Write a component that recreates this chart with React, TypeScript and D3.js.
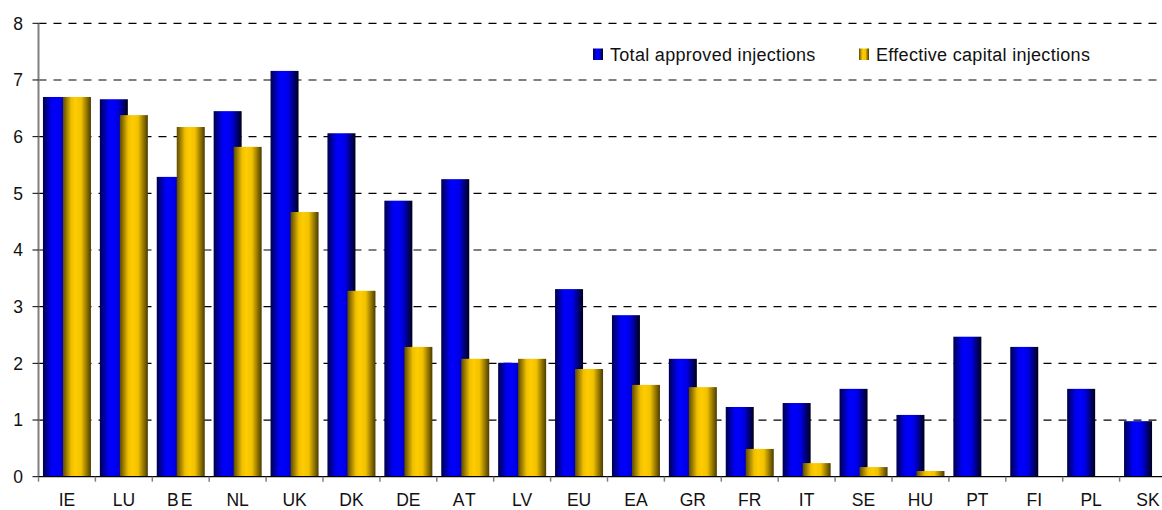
import React from "react";
import * as d3 from "d3";

const categories = ["IE", "LU", "BE", "NL", "UK", "DK", "DE", "AT", "LV", "EU", "EA", "GR", "FR", "IT", "SE", "HU", "PT", "FI", "PL", "SK"];
const totalApproved = [6.70, 6.66, 5.29, 6.45, 7.16, 6.06, 4.87, 5.25, 2.01, 3.31, 2.85, 2.08, 1.23, 1.30, 1.55, 1.09, 2.47, 2.29, 1.55, 0.98];
const effectiveCapital: (number | null)[] = [6.70, 6.38, 6.17, 5.82, 4.67, 3.28, 2.29, 2.08, 2.08, 1.90, 1.62, 1.58, 0.49, 0.24, 0.17, 0.10, null, null, null, null];
const yTicks = [0, 1, 2, 3, 4, 5, 6, 7, 8];
const seriesNames = ["Total approved injections", "Effective capital injections"];

const W = 1162;
const H = 510;
const FONT = "'Liberation Sans', Arial, sans-serif";

export default function App() {
  const x = d3.scaleBand<string>().domain(categories).range([38.5, 1176.5]).paddingInner(0).paddingOuter(0);
  const y = d3.scaleLinear().domain([0, 8]).range([476.7, 23.3]);
  const bw = x.bandwidth();
  const barW = 28;
  const overlap = 8;
  const groupW = barW * 2 - overlap;
  const off = (bw - groupW) / 2;
  const x0 = 38.5;
  const xEnd = W;

  return (
    <svg width={W} height={H} style={{ position: "absolute", left: 0, top: 0, background: "#fff" }} fontFamily={FONT}>
      <defs>
        <linearGradient id="gBlue" x1="0" x2="1" y1="0" y2="0">
          <stop offset="0%" stopColor="#00004a" />
          <stop offset="30%" stopColor="#0000ee" />
          <stop offset="45%" stopColor="#0000ff" />
          <stop offset="65%" stopColor="#0000e0" />
          <stop offset="100%" stopColor="#000018" />
        </linearGradient>
        <linearGradient id="gGold" x1="0" x2="1" y1="0" y2="0">
          <stop offset="0%" stopColor="#5c4a00" />
          <stop offset="30%" stopColor="#f0c000" />
          <stop offset="45%" stopColor="#ffcc00" />
          <stop offset="65%" stopColor="#f2c200" />
          <stop offset="100%" stopColor="#4a3b00" />
        </linearGradient>
      </defs>

      {/* gridlines */}
      {yTicks.filter((t) => t > 0).map((t) => (
        <line key={"g" + t} x1={x0} x2={xEnd} y1={y(t)} y2={y(t)} stroke="#000" strokeWidth={1.2} strokeDasharray="8,7" />
      ))}

      {/* bars */}
      {categories.map((c, i) => {
        const bx = (x(c) as number) + off;
        const tv = totalApproved[i];
        const ev = effectiveCapital[i];
        return (
          <g key={c}>
            <rect x={bx} y={y(tv)} width={barW} height={y(0) - y(tv)} fill="url(#gBlue)" />
            {ev != null && (
              <rect x={bx + barW - overlap} y={y(ev)} width={barW} height={y(0) - y(ev)} fill="url(#gGold)" />
            )}
          </g>
        );
      })}

      {/* y axis */}
      <line x1={x0} x2={x0} y1={y(8)} y2={y(0)} stroke="#808080" strokeWidth={2} />
      {yTicks.map((t) => (
        <g key={"y" + t}>
          <line x1={x0 - 6} x2={x0} y1={y(t)} y2={y(t)} stroke="#000" strokeWidth={1} />
          <text x={23} y={y(t)} dy="0.36em" textAnchor="end" fontSize={17.5} fill="#111">{t}</text>
        </g>
      ))}

      {/* x axis */}
      <line x1={x0} x2={xEnd} y1={y(0)} y2={y(0)} stroke="#000" strokeWidth={1.3} />
      {categories.map((c) => (
        <g key={"x" + c}>
          <line x1={(x(c) as number)} x2={(x(c) as number)} y1={y(0)} y2={y(0) + 5} stroke="#808080" strokeWidth={1.5} />
          <text x={(x(c) as number) + bw / 2} y={505.5} textAnchor="middle" fontSize={17.5} fill="#111" letterSpacing={c === "BE" || c === "AT" ? 2 : 0}>{c}</text>
        </g>
      ))}

      {/* legend */}
      <rect x={593} y={48.5} width={10} height={11.5} fill="url(#gBlue)" />
      <text x={610} y={60.5} fontSize={18} fill="#111" letterSpacing={0.3}>{seriesNames[0]}</text>
      <rect x={859} y={48.5} width={10} height={11.5} fill="url(#gGold)" />
      <text x={876} y={60.5} fontSize={18} fill="#111" letterSpacing={0.3}>{seriesNames[1]}</text>
    </svg>
  );
}
